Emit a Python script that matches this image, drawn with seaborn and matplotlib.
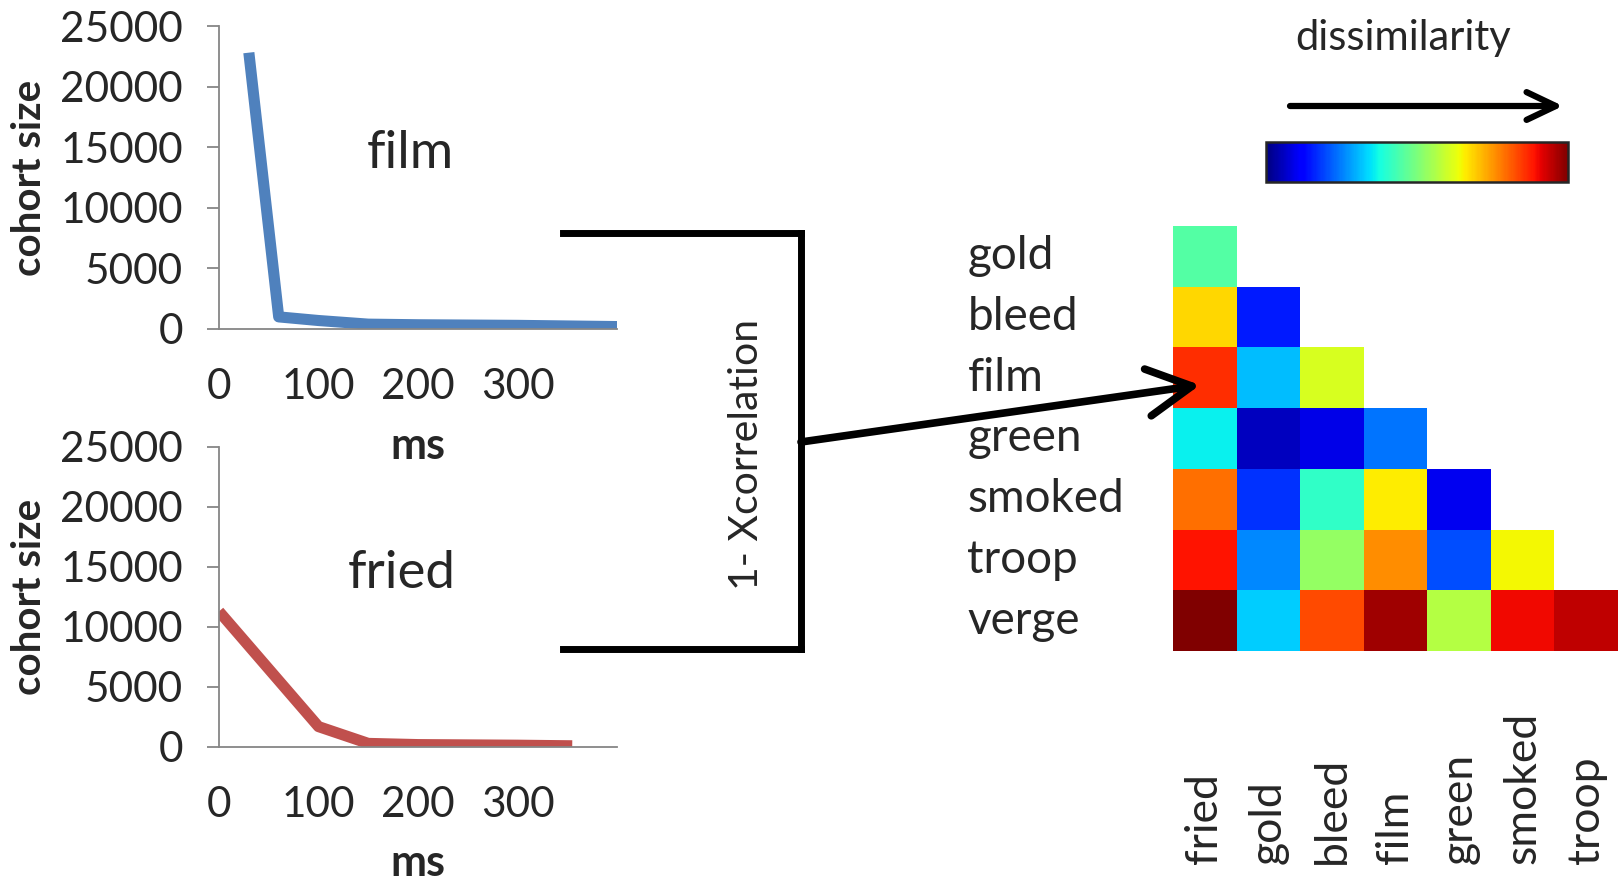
import matplotlib
matplotlib.use("Agg")
import matplotlib.pyplot as plt
from matplotlib.lines import Line2D
from matplotlib.text import Annotation
import numpy as np
import pandas as pd
import seaborn as sns

# cohort size over time for the two example words
film_ms = [30, 60, 100, 150, 200, 300, 400]
film_size = [22800, 1000, 700, 400, 350, 300, 200]
fried_ms = [0, 50, 100, 150, 200, 300, 355]
fried_size = [11300, 6500, 1700, 300, 200, 150, 100]

row_words = ["gold", "bleed", "film", "green", "smoked", "troop", "verge"]
col_words = ["fried", "gold", "bleed", "film", "green", "smoked", "troop"]

# dissimilarity (1 - Xcorrelation), lower triangle, rows read left to right
diss_rows = [
    [0.45],
    [0.68, 0.15],
    [0.86, 0.31, 0.61],
    [0.36, 0.055, 0.09, 0.24],
    [0.79, 0.175, 0.41, 0.66, 0.10],
    [0.89, 0.26, 0.53, 0.76, 0.20, 0.645],
    [1.00, 0.325, 0.83, 0.97, 0.57, 0.90, 0.945],
]

sns.set_style("white")
plt.rcParams["font.family"] = ["Lato", "DejaVu Sans"]

W, H = 1621, 883
fig = plt.figure(figsize=(W / 100, H / 100), dpi=100)


def fx(px):
    return px / W


def fy(py):
    return 1 - py / H


def fig_arrow(start, end, lw, hl, hw):
    a = Annotation("", xy=(fx(end[0]), fy(end[1])), xytext=(fx(start[0]), fy(start[1])),
                   xycoords="figure fraction", textcoords="figure fraction",
                   arrowprops=dict(arrowstyle=f"->,head_length={hl},head_width={hw}",
                                   color="black", linewidth=lw, shrinkA=0, shrinkB=0))
    a.set_zorder(10)
    fig.add_artist(a)


def line_panel(rect, x, y, color, word, word_pos):
    ax = fig.add_axes(rect)
    ax.patch.set_alpha(0)
    sns.lineplot(x=x, y=y, ax=ax, color=color, linewidth=8, solid_capstyle="butt")
    ax.set_xlim(0, 400)
    ax.set_ylim(0, 25000)
    ax.set_xticks([0, 100, 200, 300])
    ax.set_yticks(range(0, 25001, 5000))
    for s in ["top", "right"]:
        ax.spines[s].set_visible(False)
    for s in ["left", "bottom"]:
        ax.spines[s].set_color("#868686")
        ax.spines[s].set_linewidth(1.3)
    ax.tick_params(axis="y", length=9, width=1.3, color="#868686", pad=17, labelsize=30.5, left=True)
    ax.tick_params(axis="x", length=0, pad=28, labelsize=30.5)
    ax.set_ylabel("cohort size", fontsize=29, fontweight="bold")
    ax.yaxis.set_label_coords(-0.43, 0.5)
    ax.set_xlabel("ms", fontsize=31, fontweight="bold")
    ax.xaxis.set_label_coords(0.50, -0.32)
    ax.text(word_pos[0], word_pos[1], word, transform=ax.transAxes, fontsize=38,
            ha="center", va="center")
    return ax


line_panel([fx(219), fy(329), fx(617 - 219), (329 - 26) / H], film_ms, film_size,
           "#4F81BD", "film", (0.48, 0.58))
line_panel([fx(219), fy(747), fx(617 - 219), (747 - 447) / H], fried_ms, fried_size,
           "#C0504D", "fried", (0.46, 0.58))

# bracket joining the two curves
for xs, ys in [([563, 801], [233, 233]), ([801, 801], [233, 649]), ([563, 801], [649, 649])]:
    fig.add_artist(Line2D([fx(v) for v in xs], [fy(v) for v in ys], color="black",
                          linewidth=5, solid_capstyle="projecting"))
fig.text(fx(746), fy(455), "1- Xcorrelation", rotation=90, fontsize=29.5,
         ha="center", va="center")
fig_arrow((801, 442), (1200, 385), 5.5, 3.2, 1.7)

# heatmap
mat = np.full((len(row_words), len(col_words)), np.nan)
for i, r in enumerate(diss_rows):
    mat[i, :len(r)] = r
df = pd.DataFrame(mat, index=row_words, columns=col_words)

hax = fig.add_axes([fx(1173), fy(651), fx(1618 - 1173), (651 - 226) / H])
sns.heatmap(df, ax=hax, cmap="jet", vmin=0, vmax=1, cbar=False, mask=df.isna(),
            square=False)
hax.tick_params(axis="both", length=0)
hax.tick_params(axis="y", pad=148, labelsize=33)
hax.tick_params(axis="x", pad=153, labelsize=32)
for t in hax.get_yticklabels():
    t.set_ha("left")
    t.set_rotation(0)
    t.set_va("center")
for t in hax.get_xticklabels():
    t.set_rotation(90)
    t.set_va("bottom")
    t.set_ha("center")

# colour bar with label and arrow
cax = fig.add_axes([fx(1266), fy(182), fx(1568 - 1266), 40 / H])
sm = plt.cm.ScalarMappable(norm=plt.Normalize(0, 1), cmap="jet")
cb = fig.colorbar(sm, cax=cax, orientation="horizontal", ticks=[0.5])
cb.ax.set_xticklabels([])
cb.ax.tick_params(direction="in", length=4, width=1.2, color="#333333")
cb.outline.set_linewidth(1.8)
fig.text(fx(1403), fy(38), "dissimilarity", fontsize=30, ha="center", va="center")
fig_arrow((1290, 106), (1563, 106), 4.5, 2.1, 1.0)

fig.savefig("out.png", dpi=100)
